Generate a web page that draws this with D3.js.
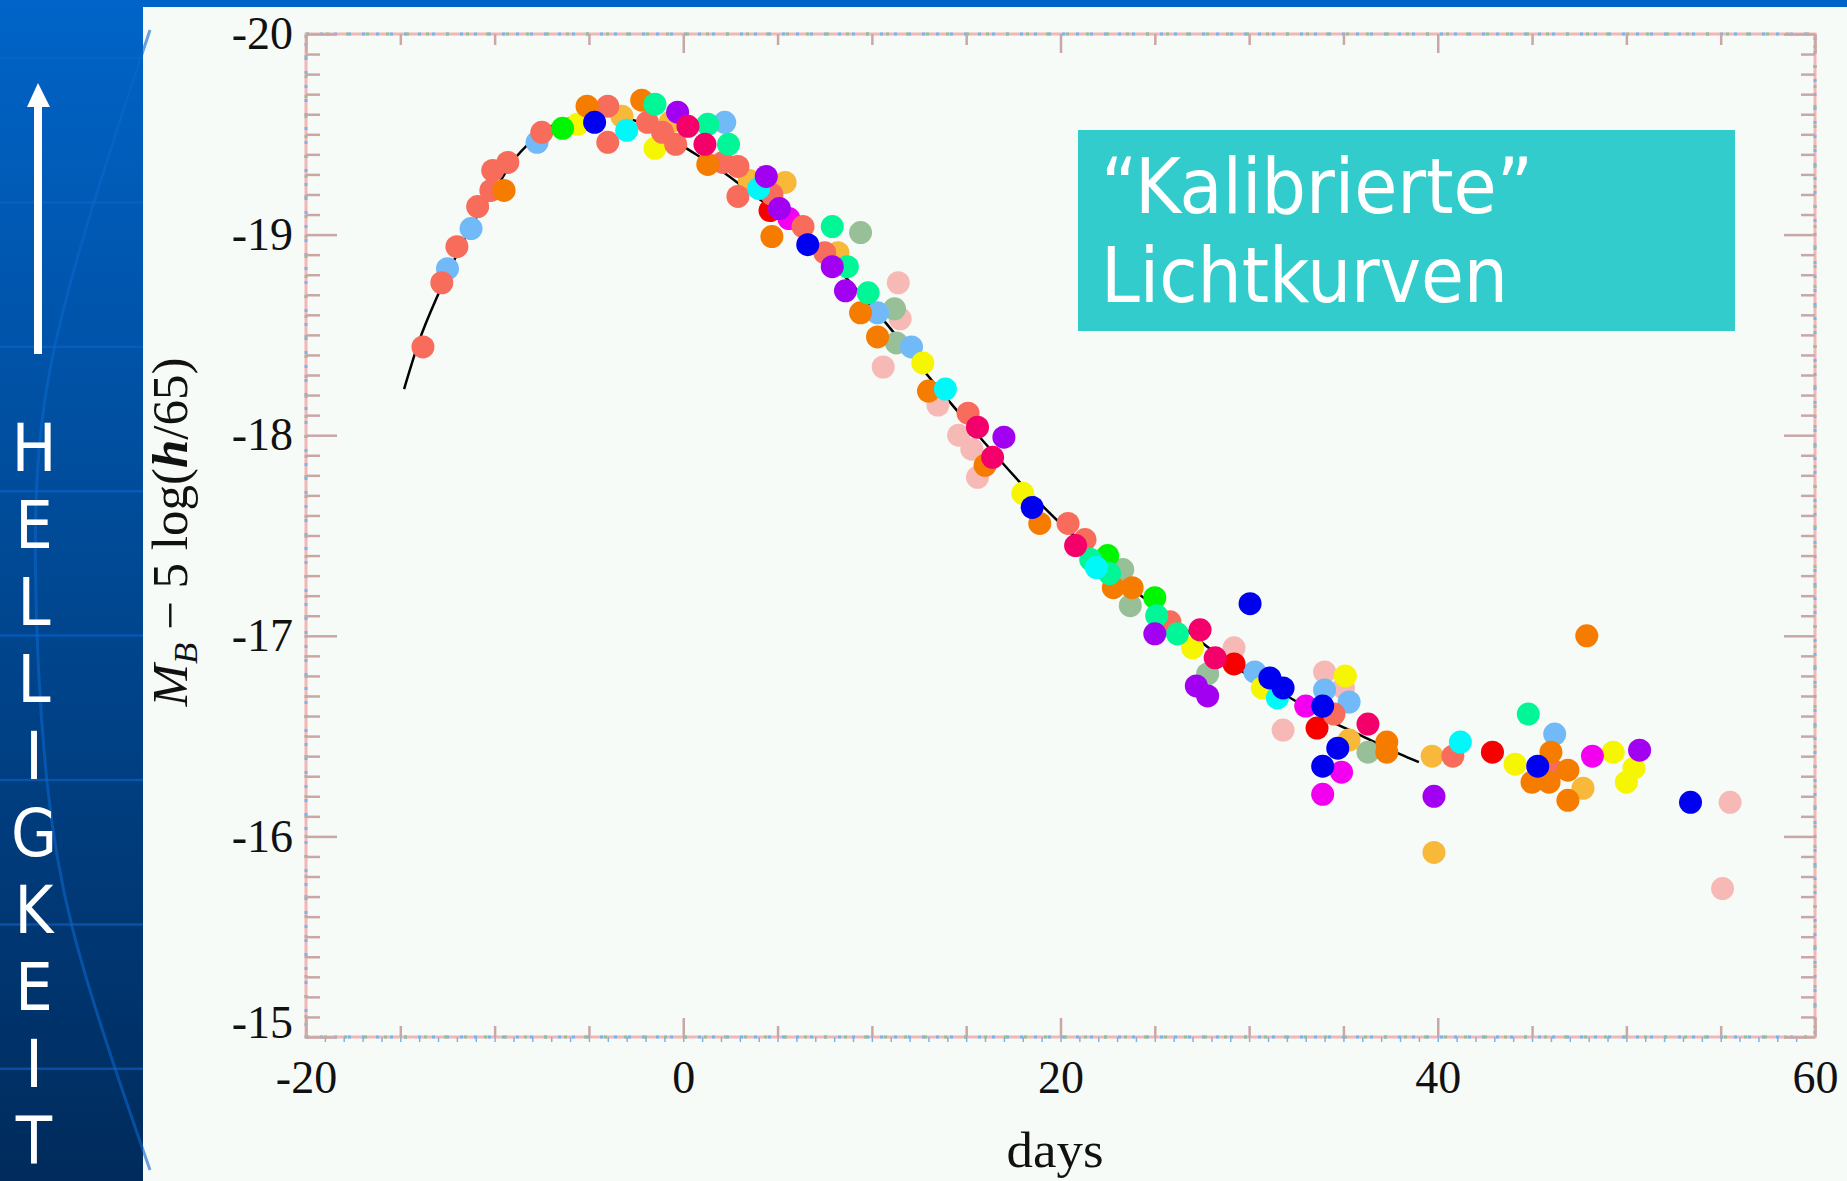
<!DOCTYPE html>
<html>
<head>
<meta charset="utf-8">
<script src="https://cdn.jsdelivr.net/npm/d3@7"></script>
<style>
body { margin: 0; overflow: hidden; background: #f7fbf7; }
svg { display: block; }
.tick line { stroke: #c9a7a7; stroke-width: 2.5; }
.tick text { font-family: "Liberation Serif", "Times New Roman", serif; font-size: 46px; fill: #111; }
</style>
</head>
<body>
<div id="chart"></div>
<script>
// tick labels
var xTicks = [-20, 0, 20, 40, 60];
var yTicks = [-20, -19, -18, -17, -16, -15];

// template light curve (days, M_B)
var templateDays = [-14.8, -14, -13, -12, -11, -10, -9, -8, -7, -6, -5, -4, -3, -2, -1, 0, 2, 4, 6, 8, 10, 11, 12, 14, 16, 18, 20, 22, 24, 26, 28, 30, 32, 34, 36, 38, 39];
var templateMags = [-18.23, -18.47, -18.70, -18.90, -19.08, -19.22, -19.37, -19.47, -19.54, -19.58, -19.60, -19.60, -19.58, -19.55, -19.50, -19.44, -19.32, -19.18, -19.05, -18.85, -18.64, -18.53, -18.41, -18.18, -17.96, -17.75, -17.56, -17.40, -17.22, -17.08, -16.93, -16.80, -16.70, -16.59, -16.50, -16.41, -16.37];

// supernova observations [day, M_B - 5 log(h/65)], one array per colour
var snPink = [[11.4,-18.76],[11.5,-18.58],[10.6,-18.34],[13.5,-18.15],[14.6,-18.00],[15.3,-17.93],[15.6,-17.79],[29.2,-16.94],[34.0,-16.82],[35.0,-16.74],[31.8,-16.53],[55.5,-16.17],[55.1,-15.74]];
var snSage = [[9.4,-19.01],[11.2,-18.63],[11.3,-18.46],[23.3,-17.33],[23.7,-17.15],[27.8,-16.81],[36.3,-16.42]];
var snLightBlue = [[-12.5,-18.83],[-11.25,-19.03],[-7.75,-19.46],[2.2,-19.56],[10.3,-18.61],[12.1,-18.44],[30.3,-16.82],[34.0,-16.73],[35.3,-16.67],[46.2,-16.51]];
var snGold = [[-3.25,-19.59],[-0.7,-19.56],[3.5,-19.27],[5.4,-19.26],[8.2,-18.91],[35.3,-16.48],[39.7,-16.40],[47.7,-16.24],[39.8,-15.92]];
var snYellow = [[-5.6,-19.55],[-1.5,-19.43],[12.7,-18.36],[18.0,-17.71],[27.0,-16.94],[30.7,-16.74],[35.1,-16.80],[44.1,-16.36],[49.3,-16.42],[50.4,-16.34],[50.0,-16.27]];
var snRed = [[4.6,-19.12],[29.2,-16.86],[33.6,-16.54],[42.9,-16.42]];
var snMagenta = [[5.6,-19.08],[33.0,-16.65],[34.9,-16.32],[33.9,-16.21],[48.2,-16.40]];
var snSalmon = [[-13.8,-18.44],[-12.8,-18.76],[-12.0,-18.94],[-10.9,-19.14],[-10.2,-19.22],[-10.1,-19.32],[-9.3,-19.36],[-7.5,-19.51],[-4.0,-19.64],[-4.0,-19.46],[-1.9,-19.56],[-1.1,-19.51],[-0.4,-19.45],[2.1,-19.36],[2.9,-19.34],[2.9,-19.19],[4.7,-19.20],[6.35,-19.04],[7.5,-18.91],[15.1,-18.11],[20.4,-17.56],[21.3,-17.48],[25.8,-17.07],[34.5,-16.61],[40.8,-16.40],[46.1,-16.33]];
var snOrange = [[-9.5,-19.22],[-5.1,-19.64],[-2.2,-19.67],[1.3,-19.35],[4.7,-18.99],[9.4,-18.61],[10.3,-18.49],[13.0,-18.22],[16.0,-17.85],[18.9,-17.56],[22.8,-17.24],[23.8,-17.24],[37.3,-16.47],[37.3,-16.42],[46.0,-16.42],[46.9,-16.33],[45.0,-16.27],[45.9,-16.27],[46.9,-16.18],[47.9,-17.00]];
var snGreen = [[-6.4,-19.53],[22.5,-17.40],[25.0,-17.19]];
var snSpring = [[-1.5,-19.65],[1.3,-19.55],[2.4,-19.45],[7.9,-19.04],[8.7,-18.84],[9.8,-18.71],[21.6,-17.38],[22.6,-17.31],[25.1,-17.10],[26.2,-17.01],[44.8,-16.61]];
var snCyan = [[-3.0,-19.52],[4.0,-19.23],[13.9,-18.23],[21.9,-17.34],[31.5,-16.69],[41.2,-16.47]];
var snBlue = [[-4.7,-19.56],[6.6,-18.95],[18.5,-17.64],[30.05,-17.16],[31.1,-16.79],[31.8,-16.74],[33.9,-16.65],[34.7,-16.44],[33.9,-16.35],[45.3,-16.35],[53.4,-16.17]];
var snPurple = [[-0.3,-19.61],[4.4,-19.29],[5.1,-19.13],[7.9,-18.84],[8.6,-18.72],[17.0,-17.99],[25.0,-17.01],[27.2,-16.75],[27.8,-16.70],[39.8,-16.20],[50.7,-16.43]];
var snCrimson = [[0.25,-19.54],[1.15,-19.45],[15.6,-18.04],[16.4,-17.89],[20.8,-17.45],[27.4,-17.03],[28.2,-16.89],[36.3,-16.56]];

var series = [
    { pts: snPink, color: "#f6b9b6" },
    { pts: snSage, color: "#98c098" },
    { pts: snLightBlue, color: "#72b9f7" },
    { pts: snGold, color: "#f8b93a" },
    { pts: snYellow, color: "#f6f600" },
    { pts: snRed, color: "#f60000" },
    { pts: snMagenta, color: "#f300f0" },
    { pts: snSalmon, color: "#f76c5a" },
    { pts: snOrange, color: "#f67c00" },
    { pts: snGreen, color: "#00f600" },
    { pts: snSpring, color: "#00f696" },
    { pts: snCyan, color: "#00f8f8" },
    { pts: snBlue, color: "#0000f0" },
    { pts: snPurple, color: "#a200f0" },
    { pts: snCrimson, color: "#f3006a" }
];

var svgWidth = 1847;
var svgHeight = 1181;
var margin = { top: 34, right: 32, bottom: 144, left: 306 };

var svg = d3.select("#chart")
    .append("svg")
    .attr("width", svgWidth)
    .attr("height", svgHeight);

// slide background
var defs = svg.append("defs");
var grad = defs.append("linearGradient").attr("id", "panel").attr("x1", 0).attr("y1", 0).attr("x2", 0).attr("y2", 1);
grad.append("stop").attr("offset", "0%").attr("stop-color", "#0064c8");
grad.append("stop").attr("offset", "100%").attr("stop-color", "#002b5c");

svg.append("rect").attr("width", svgWidth).attr("height", svgHeight).attr("fill", "#f7fbf7");
svg.append("rect").attr("width", svgWidth).attr("height", 7).attr("fill", "#0064c8");
svg.append("rect").attr("width", 143).attr("height", svgHeight).attr("fill", "url(#panel)");

var panel = svg.append("g");
d3.range(58, svgHeight, 144.4).forEach(function (yy) {
    panel.append("line").attr("x1", 0).attr("x2", 143).attr("y1", yy).attr("y2", yy)
        .attr("stroke", "#0a66ca").attr("stroke-width", 2.5).attr("opacity", 0.6);
});
panel.append("path")
    .attr("d", d3.line().curve(d3.curveBasis)([[150, 30], [100, 180], [40, 380], [32, 560], [45, 800], [70, 930], [115, 1070], [150, 1170]]))
    .attr("fill", "none").attr("stroke", "#0a66ca").attr("stroke-width", 3).attr("opacity", 0.6);

// brightness arrow
panel.append("rect").attr("x", 34).attr("y", 105).attr("width", 8).attr("height", 249).attr("fill", "#fff");
panel.append("path").attr("d", "M27,107 L38,83 L50,107 Z").attr("fill", "#fff");

var word = "HELLIGKEIT".split("");
var vertical = panel.append("text")
    .attr("text-anchor", "middle")
    .attr("font-family", "'Comic Sans MS', 'DejaVu Sans Condensed', 'DejaVu Sans', sans-serif")
    .attr("font-size", 66)
    .attr("fill", "#fff");
vertical.selectAll("tspan")
    .data(word)
    .enter()
    .append("tspan")
    .attr("x", 34)
    .attr("y", function (d, i) { return 471 + i * 77; })
    .text(function (d) { return d; });

// scales
var xScale = d3.scaleLinear().domain([-20, 60]).range([margin.left, svgWidth - margin.right]);
var yScale = d3.scaleLinear().domain([-20, -15]).range([margin.top, svgHeight - margin.bottom]);

var plot = svg.append("g");

// frame (dotted look of the original)
function frame(color, dash) {
    plot.append("rect")
        .attr("x", xScale(-20)).attr("y", yScale(-20))
        .attr("width", xScale(60) - xScale(-20)).attr("height", yScale(-15) - yScale(-20))
        .attr("fill", "none").attr("stroke", color).attr("stroke-width", 3)
        .attr("stroke-dasharray", dash);
}
frame("#f3b6b6", null);
frame("#74b6f2", "3 11");
frame("#98c098", "3 17");

// minor ticks
var yMinor = d3.range(-19.9, -15, 0.1).filter(function (v) { return Math.abs(v - Math.round(v)) > 0.01; });
var xMid = d3.range(-15, 60, 5).filter(function (v) { return v % 20 !== 0; });
var xSmall = d3.range(-19, 60, 1);
var plain = function (d) { return String(d); };

function strip(g) { g.select(".domain").remove(); }

plot.append("g").attr("transform", `translate(${xScale(-20)},0)`)
    .call(d3.axisLeft(yScale).tickValues(yMinor).tickSize(-14).tickFormat("")).call(strip);
plot.append("g").attr("transform", `translate(${xScale(60)},0)`)
    .call(d3.axisRight(yScale).tickValues(yMinor).tickSize(-14).tickFormat("")).call(strip);
plot.append("g").attr("transform", `translate(0,${yScale(-15)})`)
    .call(d3.axisBottom(xScale).tickValues(xMid).tickSize(-11).tickFormat("")).call(strip);
plot.append("g").attr("transform", `translate(0,${yScale(-20)})`)
    .call(d3.axisTop(xScale).tickValues(xMid).tickSize(-11).tickFormat("")).call(strip);
plot.append("g").attr("transform", `translate(0,${yScale(-15)})`)
    .call(d3.axisBottom(xScale).tickValues(xSmall).tickSize(5).tickFormat("")).call(strip)
    .selectAll("line").style("stroke", "#74b6f2").style("stroke-width", 1.5);

// major ticks + labels
var leftAxis = plot.append("g").attr("transform", `translate(${xScale(-20)},0)`)
    .call(d3.axisLeft(yScale).tickValues(yTicks).tickSize(-31).tickPadding(13).tickFormat(plain)).call(strip);
leftAxis.selectAll(".tick text").attr("transform", function (d) { return d === -15 ? "translate(0,-14)" : null; });
plot.append("g").attr("transform", `translate(${xScale(60)},0)`)
    .call(d3.axisRight(yScale).tickValues(yTicks).tickSize(-31).tickFormat("")).call(strip);
plot.append("g").attr("transform", `translate(0,${yScale(-15)})`)
    .call(d3.axisBottom(xScale).tickValues(xTicks).tickSize(-19).tickPadding(23).tickFormat(plain)).call(strip);
plot.append("g").attr("transform", `translate(0,${yScale(-20)})`)
    .call(d3.axisTop(xScale).tickValues(xTicks).tickSize(-19).tickFormat("")).call(strip);

// axis titles
plot.append("text")
    .attr("x", 1055).attr("y", 1167)
    .attr("text-anchor", "middle")
    .attr("font-family", "'Liberation Serif', serif")
    .attr("font-size", 50)
    .attr("textLength", 97)
    .attr("lengthAdjust", "spacingAndGlyphs")
    .attr("fill", "#111")
    .text("days");

var yTitle = plot.append("text")
    .attr("transform", "translate(187,532) rotate(-90)")
    .attr("text-anchor", "middle")
    .attr("font-family", "'Liberation Serif', serif")
    .attr("font-size", 50)
    .attr("textLength", 349)
    .attr("lengthAdjust", "spacingAndGlyphs")
    .attr("fill", "#111");
yTitle.append("tspan").attr("font-style", "italic").text("M");
yTitle.append("tspan").attr("font-style", "italic").attr("font-size", 34).attr("dy", 10).text("B");
yTitle.append("tspan").attr("dy", -10).text(" \u2212 5 log(");
yTitle.append("tspan").attr("font-style", "italic").attr("font-weight", "bold").text("h");
yTitle.append("tspan").text("/65)");

// template curve
var template = templateDays.map(function (d, i) { return [d, templateMags[i]]; });
plot.append("path")
    .datum(template)
    .attr("d", d3.line().curve(d3.curveMonotoneX)
        .x(function (d) { return xScale(d[0]); })
        .y(function (d) { return yScale(d[1]); }))
    .attr("fill", "none")
    .attr("stroke", "#000")
    .attr("stroke-width", 2.5);

// observations
series.forEach(function (s) {
    plot.append("g").selectAll("circle")
        .data(s.pts)
        .enter()
        .append("circle")
        .attr("cx", function (d) { return xScale(d[0]); })
        .attr("cy", function (d) { return yScale(d[1]); })
        .attr("r", 11.5)
        .attr("fill", s.color);
});

// label box
svg.append("rect").attr("x", 1078).attr("y", 130).attr("width", 657).attr("height", 201).attr("fill", "#33cccc");
var boxText = [
    { t: "\u201cKalibrierte\u201d", y: 213, w: 432 },
    { t: "Lichtkurven", y: 302, w: 407 }
];
var box = svg.append("text")
    .attr("font-family", "'Comic Sans MS', 'DejaVu Sans Condensed', 'DejaVu Sans', sans-serif")
    .attr("font-size", 76)
    .attr("fill", "#fff");
box.selectAll("tspan")
    .data(boxText)
    .enter()
    .append("tspan")
    .attr("x", 1101)
    .attr("y", function (d) { return d.y; })
    .attr("textLength", function (d) { return d.w; })
    .attr("lengthAdjust", "spacingAndGlyphs")
    .text(function (d) { return d.t; });
</script>
</body>
</html>
